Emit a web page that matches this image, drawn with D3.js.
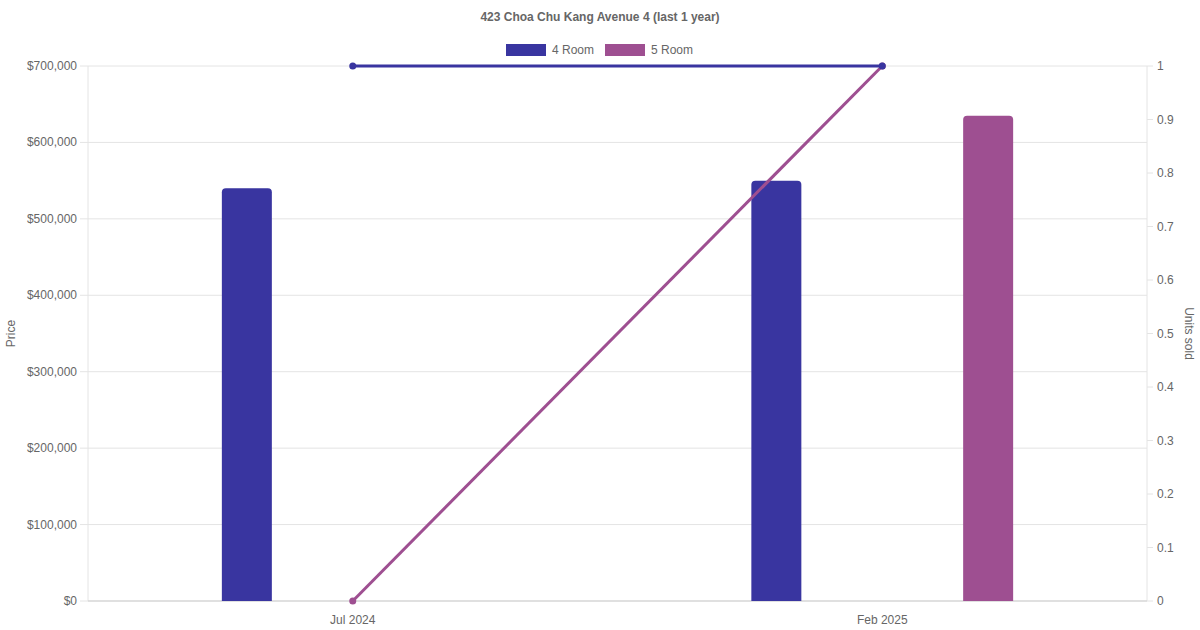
<!DOCTYPE html>
<html>
<head>
<meta charset="utf-8">
<script src="https://cdn.jsdelivr.net/npm/d3@7"></script>
<style>
body{margin:0;background:#fff;}
text{font-family:"Liberation Sans",Arial,sans-serif;}
</style>
</head>
<body>
<svg id="chart" width="1200" height="630"></svg>
<script>
// data
var months = ['Jul 2024','Feb 2025'];
var seriesNames = ['4 Room','5 Room'];
var price4 = [540000, 550000];
var price5 = [null, 635000];
var units4 = [1, 1];
var units5 = [0, 1];
var priceTicks = [0,100000,200000,300000,400000,500000,600000,700000];
var unitTicks = [0,0.1,0.2,0.3,0.4,0.5,0.6,0.7,0.8,0.9,1];

var colors = ['#3935a0','#9e4f91'];
var width = 1200, height = 630;
var margin = {top:66, right:53, bottom:29, left:88};
var innerW = width - margin.left - margin.right;
var innerH = height - margin.top - margin.bottom;

var svg = d3.select('#chart');

svg.append('text')
	.attr('x', width/2).attr('y', 21)
	.attr('text-anchor','middle')
	.style('font-size','12px').style('font-weight','bold')
	.attr('fill','#666')
	.text('423 Choa Chu Kang Avenue 4 (last 1 year)');

// legend
var legend = svg.append('g');
var legX = [506, 605];
seriesNames.forEach(function(n,i){
	legend.append('rect')
		.attr('x', legX[i]).attr('y', 44).attr('width', 40).attr('height', 12)
		.attr('fill', colors[i]);
	legend.append('text')
		.attr('x', legX[i]+46).attr('y', 54)
		.style('font-size','12px').attr('fill','#666')
		.text(n);
});

var g = svg.append('g')
	.attr('transform','translate('+margin.left+','+margin.top+')');

var x = d3.scaleBand().domain(months).range([0, innerW]);
var xSub = d3.scaleBand().domain(seriesNames)
	.range([0, x.bandwidth()*0.8]);
var yP = d3.scaleLinear().domain([0,700000]).range([innerH,0]);
var yU = d3.scaleLinear().domain([0,1]).range([innerH,0]);

// grid
g.selectAll('.grid').data(priceTicks).enter().append('line')
	.attr('x1',-8).attr('x2',innerW)
	.attr('y1',function(d){ return yP(d) }).attr('y2',function(d){ return yP(d) })
	.attr('stroke','#e4e4e4');
g.selectAll('.rtick').data(unitTicks).enter().append('line')
	.attr('x1',innerW).attr('x2',innerW+6)
	.attr('y1',function(d){ return yU(d) }).attr('y2',function(d){ return yU(d) })
	.attr('stroke','#e4e4e4');
g.append('line').attr('x1',0).attr('x2',0).attr('y1',0).attr('y2',innerH).attr('stroke','#e4e4e4');
g.append('line').attr('x1',innerW).attr('x2',innerW).attr('y1',0).attr('y2',innerH).attr('stroke','#e4e4e4');
g.append('line').attr('x1',0).attr('x2',innerW).attr('y1',innerH).attr('y2',innerH).attr('stroke','#cfcfcf');

// axes labels
var fmt = d3.format('$,');
g.selectAll('.ly').data(priceTicks).enter().append('text')
	.attr('x',-11).attr('y',function(d){ return yP(d)+4 })
	.attr('text-anchor','end').style('font-size','12px').attr('fill','#666')
	.text(function(d){ return fmt(d) });
g.selectAll('.ry').data(unitTicks).enter().append('text')
	.attr('x',innerW+10).attr('y',function(d){ return yU(d)+4 })
	.style('font-size','12px').attr('fill','#666')
	.text(function(d){ return d3.format('~g')(d) });
g.selectAll('.lx').data(months).enter().append('text')
	.attr('x',function(d){ return x(d)+x.bandwidth()/2 }).attr('y',innerH+23)
	.attr('text-anchor','middle').style('font-size','12px').attr('fill','#666')
	.text(function(d){ return d });

svg.append('text')
	.attr('transform','translate(15,'+(margin.top+innerH/2)+') rotate(-90)')
	.attr('text-anchor','middle').style('font-size','12px').attr('fill','#666')
	.text('Price');
svg.append('text')
	.attr('transform','translate(1185,'+(margin.top+innerH/2)+') rotate(90)')
	.attr('text-anchor','middle').style('font-size','12px').attr('fill','#666')
	.text('Units sold');

// bars
var barW = 50, r = 4;
function barPath(cx, v){
	var x0 = cx - barW/2, x1 = cx + barW/2, y0 = yP(v), yb = innerH;
	return 'M'+x0+','+yb+'L'+x0+','+(y0+r)+'Q'+x0+','+y0+' '+(x0+r)+','+y0+
		'L'+(x1-r)+','+y0+'Q'+x1+','+y0+' '+x1+','+(y0+r)+'L'+x1+','+yb+'Z';
}
[price4, price5].forEach(function(arr, si){
	var data = months.map(function(m,i){ return {m:m, v:arr[i]} })
		.filter(function(d){ return d.v != null });
	g.selectAll('.bar'+si).data(data).enter().append('path')
		.attr('d', function(d){
			var cx = x(d.m) + x.bandwidth()*0.1 + xSub(seriesNames[si]) + xSub.bandwidth()/2;
			return barPath(cx, d.v);
		})
		.attr('fill', colors[si]);
});

// lines
var line = d3.line()
	.x(function(d){ return x(d.m)+x.bandwidth()/2 })
	.y(function(d){ return yU(d.v) });
[[units5,1],[units4,0]].forEach(function(p){
	var arr = p[0], si = p[1];
	var data = months.map(function(m,i){ return {m:m, v:arr[i]} });
	g.append('path').datum(data)
		.attr('d', line).attr('fill','none')
		.attr('stroke', colors[si]).attr('stroke-width', 3);
	g.selectAll('.pt'+si).data(data).enter().append('circle')
		.attr('cx', function(d){ return x(d.m)+x.bandwidth()/2 })
		.attr('cy', function(d){ return yU(d.v) })
		.attr('r', 3.5).attr('fill', colors[si]);
});
</script>
</body>
</html>
